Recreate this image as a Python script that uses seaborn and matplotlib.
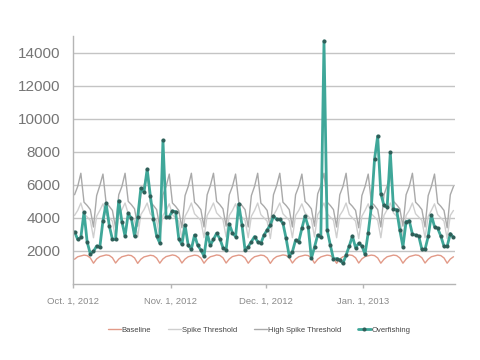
import matplotlib
matplotlib.use("Agg")
import matplotlib.pyplot as plt
import pandas as pd
import seaborn as sns

# === Data (daily values, Oct 1 2012 - Jan 29 2013) ===
baseline = [
    1500, 1650, 1700, 1750, 1720, 1580, 1260,
    1520, 1660, 1710, 1760, 1730, 1590, 1270,
    1510, 1650, 1700, 1750, 1720, 1580, 1250,
    1500, 1640, 1690, 1740, 1710, 1570, 1260,
    1520, 1660, 1710, 1760, 1720, 1590, 1270,
    1510, 1650, 1700, 1750, 1720, 1580, 1260,
    1500, 1650, 1700, 1760, 1730, 1590, 1270,
    1510, 1660, 1710, 1750, 1720, 1580, 1260,
    1500, 1650, 1700, 1750, 1720, 1580, 1250,
    1520, 1660, 1710, 1760, 1730, 1590, 1270,
    1510, 1650, 1700, 1750, 1720, 1580, 1260,
    1500, 1640, 1700, 1750, 1720, 1570, 1250,
    1510, 1650, 1710, 1760, 1730, 1590, 1270,
    1520, 1660, 1710, 1750, 1720, 1580, 1260,
    1500, 1650, 1700, 1750, 1720, 1580, 1260,
    1510, 1660, 1710, 1760, 1730, 1590, 1270,
    1500, 1650, 1700, 1750, 1720, 1580, 1260,
    1510, 1650,
]

spike_threshold = [
    4150, 4450, 4900, 4250, 4050, 3850, 2800,
    4100, 4450, 4850, 4200, 4000, 3800, 2750,
    4150, 4500, 4900, 4250, 4050, 3850, 2850,
    4200, 4500, 4900, 4250, 4050, 3850, 2800,
    4150, 4450, 4850, 4200, 4000, 3800, 2750,
    4100, 4450, 4900, 4250, 4050, 3850, 2800,
    4150, 4500, 4900, 4300, 4100, 3900, 2850,
    4150, 4450, 4850, 4250, 4050, 3850, 2800,
    4100, 4450, 4900, 4200, 4000, 3800, 2750,
    4150, 4500, 4900, 4250, 4050, 3850, 2800,
    4150, 4450, 4850, 4300, 4100, 3900, 2850,
    4200, 4500, 4900, 4250, 4050, 3850, 2800,
    4150, 4450, 4900, 4200, 4000, 3800, 2750,
    4100, 4450, 4850, 4250, 4050, 3850, 2800,
    4150, 4500, 4900, 4300, 4100, 3900, 2850,
    4150, 4450, 4900, 4250, 4050, 3850, 2800,
    4100, 4450, 4850, 4200, 4000, 3800, 2750,
    4150, 4450,
]

high_spike_threshold = [
    5400, 5900, 6700, 4950, 4750, 4500, 3450,
    5350, 5950, 6650, 4900, 4700, 4450, 3400,
    5400, 5900, 6700, 5000, 4800, 4550, 3500,
    5450, 5950, 6700, 4950, 4750, 4500, 3450,
    5400, 5900, 6650, 4900, 4700, 4450, 3400,
    5350, 5900, 6700, 4950, 4750, 4500, 3450,
    5400, 5950, 6700, 5000, 4800, 4550, 3500,
    5400, 5900, 6650, 4950, 4750, 4500, 3450,
    5350, 5900, 6700, 4900, 4700, 4450, 3400,
    5400, 5950, 6700, 4950, 4750, 4500, 3450,
    5400, 5900, 6650, 5000, 4800, 4550, 3500,
    5450, 5950, 6700, 4950, 4750, 4500, 3450,
    5400, 5900, 6700, 4900, 4700, 4450, 3400,
    5350, 5900, 6650, 4950, 4750, 4500, 3450,
    5400, 5950, 6700, 5000, 4800, 4550, 3500,
    5400, 5900, 6700, 4950, 4750, 4500, 3450,
    5350, 5900, 6650, 4900, 4700, 4450, 3400,
    5400, 5900,
]

overfishing = [
    3160, 2700, 2820, 4340, 2540, 1830, 1970,
    2300, 2220, 3830, 4880, 3530, 2700, 2700,
    5040, 3770, 2900, 4270, 3970, 2900, 4050,
    5800, 5550, 6950, 5340, 3930, 2900, 2480,
    8700, 4050, 4080, 4420, 4380, 2750, 2400,
    3570, 2340, 2120, 2960, 2340, 2060, 1690,
    3070, 2340, 2700, 3070, 2750, 2200, 2080,
    3630, 3100, 2870, 4840, 3600, 2060, 2260,
    2560, 2870, 2560, 2460, 2960, 3270, 3570,
    4110, 3910, 3910, 3670, 2760, 1690, 1960,
    2660, 2560, 3370, 4110, 3470, 1550, 2240,
    2960, 2830, 14700, 3270, 2360, 1510, 1540,
    1480, 1250, 1750, 2300, 2900, 2200, 2460,
    2300, 1810, 3100, 4680, 7540, 8950, 5450,
    4750, 4650, 7970, 4550, 4500, 3270, 2260,
    3770, 3830, 3020, 2960, 2900, 2100, 2100,
    2880, 4170, 3470, 3370, 2900, 2280, 2280,
    3050, 2820,
]

dates = pd.date_range("2012-10-01 12:00", periods=len(overfishing), freq="D")

tick_dates = pd.to_datetime(["2012-10-01", "2012-11-01", "2012-12-01", "2013-01-01"])
tick_labels = ["Oct. 1, 2012", "Nov. 1, 2012", "Dec. 1, 2012", "Jan. 1, 2013"]
y_ticks = [2000, 4000, 6000, 8000, 10000, 12000, 14000]

# === Plot ===
sns.set_theme(style="white")
plt.rcParams['font.family'] = ['Liberation Sans', 'DejaVu Sans']

fig = plt.figure(figsize=(4.8, 3.6), dpi=100)
ax = fig.add_axes([0.152, 0.211, 0.796, 0.689])

sns.lineplot(x=dates, y=baseline, ax=ax, color="#e29a88", lw=1.0, label="Baseline")
sns.lineplot(x=dates, y=spike_threshold, ax=ax, color="#cfcfcf", lw=1.0, label="Spike Threshold")
sns.lineplot(x=dates, y=high_spike_threshold, ax=ax, color="#a9a9a9", lw=1.0,
             label="High Spike Threshold")
sns.lineplot(x=dates, y=overfishing, ax=ax, color="#3fa799", lw=2.0, marker="o",
             markersize=2.2, markerfacecolor="#2f5e58", markeredgecolor="#2f5e58",
             label="Overfishing")

ax.set_ylim(0, 15000)
ax.set_xlim(pd.Timestamp("2012-10-01"), pd.Timestamp("2013-01-30"))
ax.set_yticks(y_ticks)
ax.set_yticklabels([str(v) for v in y_ticks])
ax.set_xticks(tick_dates)
ax.set_xticklabels(tick_labels)
ax.yaxis.grid(True, color="#c4c4c4", lw=1.0)
ax.set_axisbelow(True)

for side in ["top", "right"]:
    ax.spines[side].set_visible(False)
for side in ["left", "bottom"]:
    ax.spines[side].set_color("#b5b5b5")
    ax.spines[side].set_linewidth(1.0)

ax.tick_params(axis="y", labelsize=11, colors="#b5b5b5", labelcolor="#757575",
               length=3, width=1, pad=6)
ax.tick_params(axis="x", labelsize=6.8, colors="#b5b5b5", labelcolor="#8a8a8a",
               length=3, width=1, pad=6, bottom=True)
ax.set_xlabel("")
ax.set_ylabel("")

ax.get_legend().remove()
handles, labels = ax.get_legend_handles_labels()
fig.legend(handles, labels, loc="center", bbox_to_anchor=(0.54, 0.083), ncol=4,
           frameon=False, fontsize=5.5, handlelength=1.7, handletextpad=0.1,
           columnspacing=2.2, labelcolor="#444444")

fig.savefig("out.png", dpi=100)
